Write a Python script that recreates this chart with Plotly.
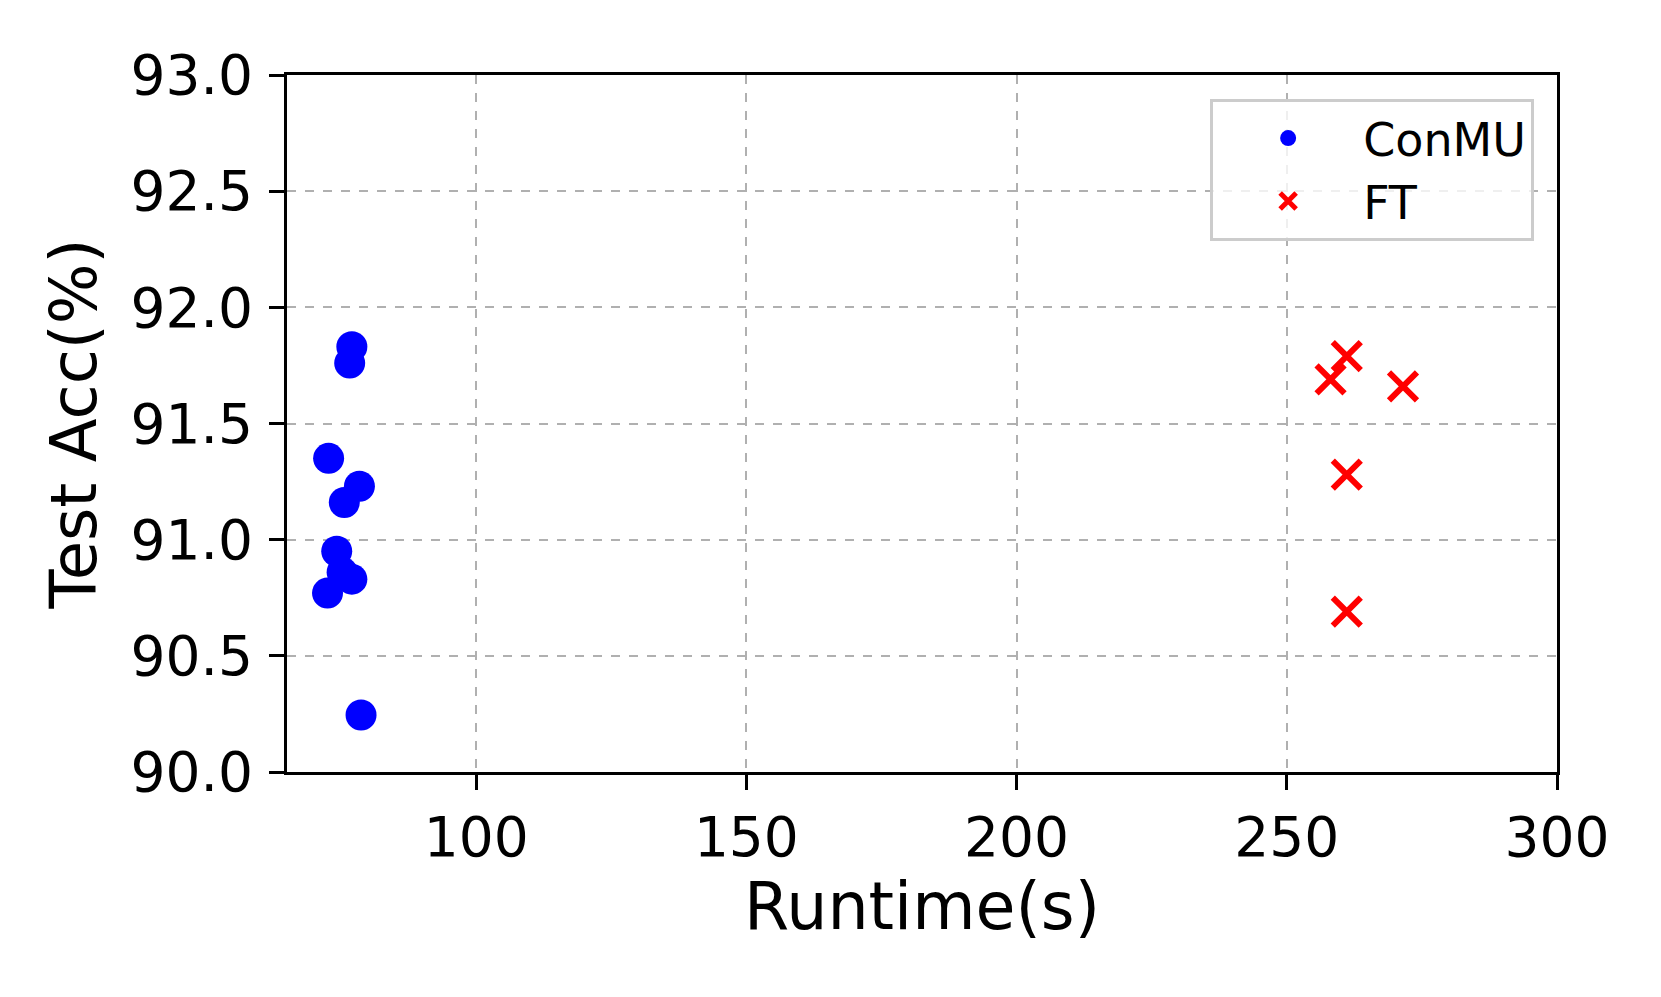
import plotly.graph_objects as go

# ConMU runs
conmu_runtime = [77.0, 76.6, 72.7, 78.4, 75.6, 74.2, 75.2, 77.0, 72.5, 78.7]
conmu_acc = [91.83, 91.76, 91.35, 91.23, 91.16, 90.95, 90.86, 90.83, 90.77, 90.245]

# FT runs
ft_runtime = [261.1, 258.1, 271.5, 261.1, 261.1]
ft_acc = [91.79, 91.69, 91.66, 91.28, 90.69]

x_ticks = [100, 150, 200, 250, 300]
y_ticks = [90.0, 90.5, 91.0, 91.5, 92.0, 92.5, 93.0]

font = "DejaVu Sans"

fig = go.Figure()

fig.add_trace(go.Scatter(
    x=conmu_runtime, y=conmu_acc, mode="markers", name="ConMU",
    marker=dict(color="#0000ff", size=31, symbol="circle", line=dict(width=0)),
))

fig.add_trace(go.Scatter(
    x=ft_runtime, y=ft_acc, mode="markers", name="FT",
    marker=dict(color="#ff0000", size=28, symbol="x-thin", line=dict(width=6, color="#ff0000")),
))

axis_common = dict(
    showline=True, linecolor="black", linewidth=3, mirror=True,
    ticks="outside", ticklen=15, tickwidth=3, tickcolor="black",
    showgrid=True, gridcolor="#b0b0b0", gridwidth=1.5, griddash="dash",
    zeroline=False, tickfont=dict(family=font, size=55, color="black"),
)

fig.update_xaxes(
    range=[65, 300], tickvals=x_ticks,
    title=dict(text="Runtime(s)", font=dict(family=font, size=65, color="black"), standoff=16),
    **axis_common,
)
fig.update_yaxes(
    range=[90, 93], tickvals=y_ticks, tickformat=".1f", ticklabelstandoff=5,
    title=dict(text="Test Acc(%)", font=dict(family=font, size=64, color="black"), standoff=14),
    **axis_common,
)

fig.update_layout(
    width=1661, height=997,
    margin=dict(l=279, r=112, t=67, b=233),
    plot_bgcolor="white", paper_bgcolor="white",
    font=dict(family=font, color="black"),
    legend=dict(
        x=0.982, y=0.966, xanchor="right", yanchor="top",
        bgcolor="rgba(255,255,255,0.8)", bordercolor="#cccccc", borderwidth=3,
        font=dict(family=font, size=46, color="black"),
        itemwidth=140, tracegroupgap=0,
    ),
)

fig.write_html("out.html")
